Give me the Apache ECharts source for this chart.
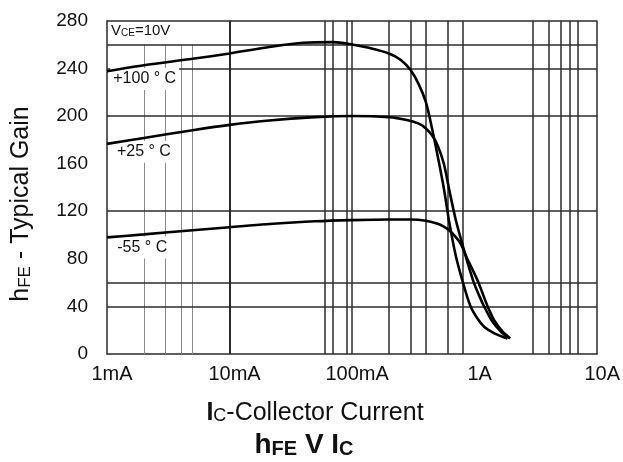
<!DOCTYPE html>
<html><head><meta charset="utf-8">
<script src="https://cdn.jsdelivr.net/npm/echarts@6/dist/echarts.min.js"></script>
<style>html,body{margin:0;padding:0;background:#fff}#c{width:623px;height:462px}</style>
</head><body><div id="c"></div>
<script>
// Collector current (A) vs hFE
const curve100 = [[0.001,237.5],[0.002,242.5],[0.005,248],[0.01,252.5],[0.02,257.5],[0.04,261.5],[0.07,262],[0.1,260],[0.14,257],[0.2,252.5],[0.25,247],[0.3,238.5],[0.35,226.5],[0.4,211.5],[0.45,189],[0.5,166],[0.56,139.5],[0.62,111],[0.7,83],[0.8,60.5],[0.92,40.7],[1.05,30],[1.2,22.7],[1.45,17.4],[1.85,13]];
const curve25 = [[0.001,176.5],[0.002,181.5],[0.005,188],[0.01,192.5],[0.02,196],[0.05,199],[0.1,200],[0.2,199],[0.28,196.5],[0.35,193.5],[0.4,189.5],[0.45,183.5],[0.5,175],[0.56,160],[0.62,138],[0.7,113],[0.79,93],[0.88,76],[0.985,60],[1.1,48],[1.19,40.3],[1.4,27],[1.65,18.5],[1.92,13.3]];
const curveM55 = [[0.001,98],[0.002,100.5],[0.005,104],[0.01,106.5],[0.02,109],[0.05,111.5],[0.1,112.5],[0.2,113],[0.3,113],[0.4,112],[0.5,109.5],[0.56,107],[0.62,104],[0.69,99],[0.77,92.5],[0.87,80],[0.97,70],[1.08,59.5],[1.19,48],[1.3,38],[1.45,28],[1.7,18.5],[1.95,13.1]];
const seriesNames = ['+100 ° C', '+25 ° C', '-55 ° C'];
const xTickValues = [0.001, 0.01, 0.1, 1, 10];
const xTickLabels = ['1mA', '10mA', '100mA', '1A', '10A'];
const gridXFull = [0.006,0.007,0.008,0.01,0.06,0.07,0.09,0.1,0.2,0.3,0.4,0.6,0.8,3,4,5,6,7,10];
const gridXPartial = [0.002,0.003,0.004,0.005];
const gridY = [40,60,120,200,240,260,280];

const F = '"Liberation Sans", Arial, Helvetica, sans-serif';
const dark = '#2b2b2b';
const chart = echarts.init(document.getElementById('c'), null, {renderer:'canvas'});

const ml = [];
gridXFull.forEach(v => ml.push({xAxis: v, lineStyle:{color:dark, width:1.5, type:'solid'}}));
gridXPartial.forEach(v => ml.push([{coord:[v,0], lineStyle:{color:'#8a8a8a', width:1, type:'solid'}},{coord:[v,260]}]));
gridY.forEach(v => ml.push({yAxis: v, lineStyle:{color:dark, width:1.5, type:'solid'}}));

function labelFor(v){
  const e = Math.round(Math.log10(v));
  const i = xTickValues.findIndex(t => Math.round(Math.log10(t)) === e);
  return i >= 0 ? xTickLabels[i] : '';
}
const tempLabel = (name, coord) => ({
  coord, symbol:'rect', symbolSize:1, itemStyle:{color:'rgba(0,0,0,0)'},
  label:{show:true, position:'inside', formatter:name, color:'#111', fontSize:16, fontFamily:F,
         backgroundColor:'#fff', padding:[3,3]}
});

const curveStyle = {color:'#000', width:2.6};
const curveCommon = {type:'line', smooth:0.3, symbol:'none', lineStyle:curveStyle, z:3};
chart.setOption({
  animation:false,
  backgroundColor:'#fff',
  grid:{left:107, right:22, top:20.7, bottom:108, containLabel:false},
  xAxis:{type:'log', logBase:10, min:0.001, max:10,
    axisLine:{show:true, lineStyle:{color:dark, width:1.5}},
    axisTick:{show:false}, splitLine:{show:false}, minorSplitLine:{show:false},
    axisLabel:{formatter:labelFor, color:'#111', fontSize:20, fontFamily:F, margin:10, padding:[0,0,0,10]}},
  yAxis:{type:'value', min:0, max:280, interval:40,
    axisLine:{show:true, lineStyle:{color:dark, width:1.5}},
    axisTick:{show:false}, splitLine:{show:false},
    axisLabel:{color:'#111', fontSize:19, fontFamily:F, margin:19}},
  graphic:[
    {type:'text', x:111, y:31, z:10, style:{text:'{a|V}{b|CE}{a|=10V}', textVerticalAlign:'middle', verticalAlign:'middle', textAlign:'left', align:'left',
      rich:{a:{fontSize:15, fontFamily:F, fill:'#111', lineHeight:15}, b:{fontSize:10, fontFamily:F, fill:'#111', lineHeight:13, verticalAlign:'bottom'}}}},
    {type:'text', x:21, y:204, rotation:Math.PI/2, z:10, style:{text:'{h|h}{s|FE}{h| - Typical Gain}', textAlign:'center', align:'center', textVerticalAlign:'middle', verticalAlign:'middle',
      rich:{h:{fontSize:25, fontFamily:F, fill:'#111', lineHeight:26}, s:{fontSize:17, fontFamily:F, fill:'#111', lineHeight:11, verticalAlign:'bottom'}}}},
    {type:'text', x:315, y:413, z:10, style:{text:'{i|I}{c|C}{n|-Collector Current}', textAlign:'center', align:'center', textVerticalAlign:'middle', verticalAlign:'middle',
      rich:{i:{fontSize:25, fontFamily:F, fontWeight:'bold', fill:'#111', lineHeight:25}, c:{fontSize:18, fontFamily:F, fill:'#111', lineHeight:24, verticalAlign:'bottom'}, n:{fontSize:25, fontFamily:F, fill:'#111', lineHeight:25}}}},
    {type:'text', x:304, y:445, z:10, style:{text:'{b|h}{s|FE}{b| V I}{s|C}', textAlign:'center', align:'center', textVerticalAlign:'middle', verticalAlign:'middle',
      rich:{b:{fontSize:28, fontFamily:F, fontWeight:'bold', fill:'#111', lineHeight:28}, s:{fontSize:20, fontFamily:F, fontWeight:'bold', fill:'#111', lineHeight:26, verticalAlign:'bottom'}}}}
  ],
  series:[
    {type:'line', data:[], z:1, silent:true,
      markLine:{z:1, silent:true, symbol:['none','none'], label:{show:false}, animation:false, data:ml},
      markPoint:{z:2, silent:true, animation:false, data:[
        tempLabel(seriesNames[0], [0.00203, 231]),
        tempLabel(seriesNames[1], [0.0020, 170]),
        tempLabel(seriesNames[2], [0.00194, 89.5])
      ]}},
    Object.assign({name:seriesNames[0], data:curve100}, curveCommon),
    Object.assign({name:seriesNames[1], data:curve25}, curveCommon),
    Object.assign({name:seriesNames[2], data:curveM55}, curveCommon)
  ]
});
</script></body></html>
